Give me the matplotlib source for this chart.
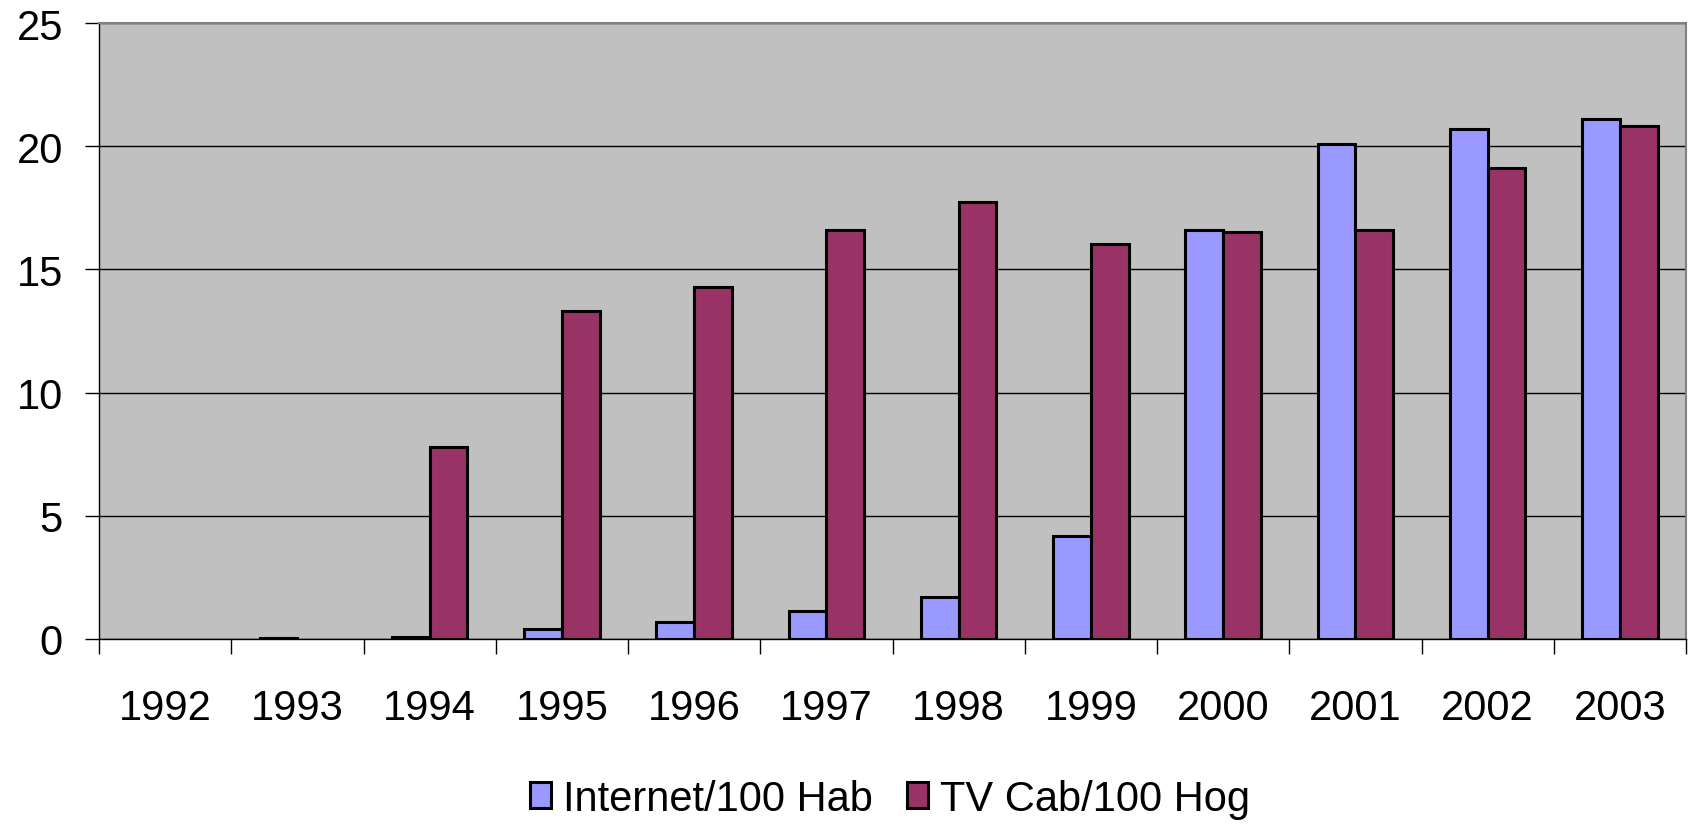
import numpy as np
import matplotlib
matplotlib.use("Agg")
import matplotlib.pyplot as plt
from matplotlib.patches import Patch

years = ["1992", "1993", "1994", "1995", "1996", "1997", "1998", "1999", "2000", "2001", "2002", "2003"]
internet = [np.nan, 0.05, 0.07, 0.4, 0.7, 1.15, 1.7, 4.2, 16.6, 20.1, 20.7, 21.1]
tv_cable = [np.nan, np.nan, 7.8, 13.3, 14.3, 16.6, 17.75, 16.05, 16.5, 16.6, 19.1, 20.8]
series_names = ["Internet/100 Hab", "TV Cab/100 Hog"]
colors = ["#9999FF", "#993366"]

plt.rcParams['font.family'] = ['Liberation Sans', 'DejaVu Sans']

fig = plt.figure(figsize=(16.89, 8.28), dpi=100)
ax = fig.add_axes([99/1689, 1-640/828, (1686-99)/1689, (640-24)/828])
ax.set_facecolor("#C0C0C0")

x = np.arange(len(years))
w = 1/3.5
ax.bar(x - w/2, internet, w, color=colors[0], edgecolor="black", linewidth=2.2, zorder=3)
ax.bar(x + w/2, tv_cable, w, color=colors[1], edgecolor="black", linewidth=2.2, zorder=3)

ax.set_xlim(-0.5, len(years) - 0.5)
ax.set_ylim(0, 25)
ax.set_yticks([0, 5, 10, 15, 20, 25])
ax.yaxis.grid(True, color="black", linewidth=1.0, zorder=1)
ax.set_axisbelow(True)

ax.set_xticks(x)
ax.set_xticklabels(years)
ax.set_xticks(np.arange(-0.5, len(years), 1.0), minor=True)
ax.tick_params(axis='x', which='major', length=0, pad=35, labelsize=30)
ax.tick_params(axis='x', which='minor', length=11, width=1.0, direction='out', color='black')
ax.tick_params(axis='y', which='major', length=10, width=1.0, direction='out', pad=16, labelsize=30)

for s in ["top", "right"]:
    ax.spines[s].set_color("#808080")
    ax.spines[s].set_linewidth(1.5)
ax.spines["left"].set_color("black")
ax.spines["bottom"].set_color("black")
ax.spines["left"].set_linewidth(1.0)
ax.spines["bottom"].set_linewidth(1.0)

handles = [Patch(facecolor=c, edgecolor="black", linewidth=2.2) for c in colors]
fig.legend(handles, series_names, loc="center", bbox_to_anchor=(0.527, 0.034), ncol=2,
           frameon=False, fontsize=30, handlelength=0.5, handleheight=0.6,
           handletextpad=0.3, columnspacing=0.8, borderpad=0.2)

fig.savefig("out.png", dpi=100)
